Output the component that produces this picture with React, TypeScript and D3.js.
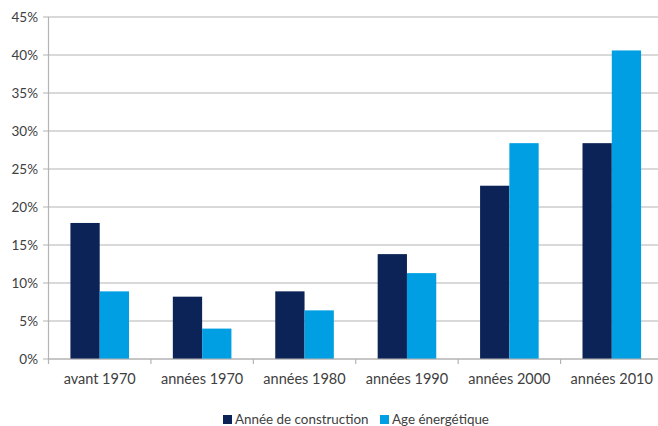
import React from "react";
import * as d3 from "d3";

const categories = ["avant 1970", "années 1970", "années 1980", "années 1990", "années 2000", "années 2010"];
const seriesNames = ["Année de construction", "Age énergétique"];
const constructionValues = [17.9, 8.2, 8.9, 13.8, 22.8, 28.4];
const energyValues = [8.9, 4.0, 6.4, 11.3, 28.4, 40.6];
const yTicks = [0, 5, 10, 15, 20, 25, 30, 35, 40, 45];
const colors = ["#0c2357", "#009fe3"];

const W = 658;
const H = 426;
const FONT = "Lato, 'Open Sans', sans-serif";
const TEXT = "#404040";
const GRID = "#b4b4b4";

export default function App() {
  const left = 48.5;
  const x = d3.scaleBand<string>().domain(categories).range([left, 663]).padding(0);
  const y = d3.scaleLinear().domain([0, 45]).range([359, 17]);
  const bw = x.bandwidth() * 0.286;
  const series = [constructionValues, energyValues];

  return (
    <svg width={W} height={H} style={{ position: "absolute", left: 0, top: 0, background: "#fff" }}>
      {yTicks.map((t) => (
        <g key={t}>
          <line x1={43} x2={W} y1={y(t)} y2={y(t)} stroke={GRID} strokeWidth={1.2} />
          <text x={38} y={y(t)} dy="0.35em" textAnchor="end" fontFamily={FONT} fontSize={13.5} fill={TEXT}>
            {t}%
          </text>
        </g>
      ))}
      <line x1={left} x2={left} y1={y(45)} y2={y(0) + 5} stroke={GRID} strokeWidth={1.2} />
      {categories.map((c, i) => (
        <line key={"t" + i} x1={(x(c) as number) + x.bandwidth()} x2={(x(c) as number) + x.bandwidth()} y1={y(0)} y2={y(0) + 5} stroke={GRID} strokeWidth={1.2} />
      ))}
      {categories.map((c, i) => {
        const cx = (x(c) as number) + x.bandwidth() / 2;
        return (
          <g key={c}>
            {series.map((vals, s) => (
              <rect
                key={s}
                x={cx - bw + s * bw}
                y={y(vals[i])}
                width={bw}
                height={y(0) - y(vals[i])}
                fill={colors[s]}
              />
            ))}
            <text x={cx} y={384} textAnchor="middle" fontFamily={FONT} fontSize={14.5} fill={TEXT}>
              {c}
            </text>
          </g>
        );
      })}
      <line x1={left} x2={W} y1={y(0)} y2={y(0)} stroke={GRID} strokeWidth={1.2} />
      {seriesNames.map((n, s) => {
        const lx = s === 0 ? 223 : 380;
        return (
          <g key={n}>
            <rect x={lx} y={415} width={9} height={9} fill={colors[s]} />
            <text x={lx + 12} y={424} fontFamily={FONT} fontSize={13.4} fill={TEXT}>
              {n}
            </text>
          </g>
        );
      })}
    </svg>
  );
}
